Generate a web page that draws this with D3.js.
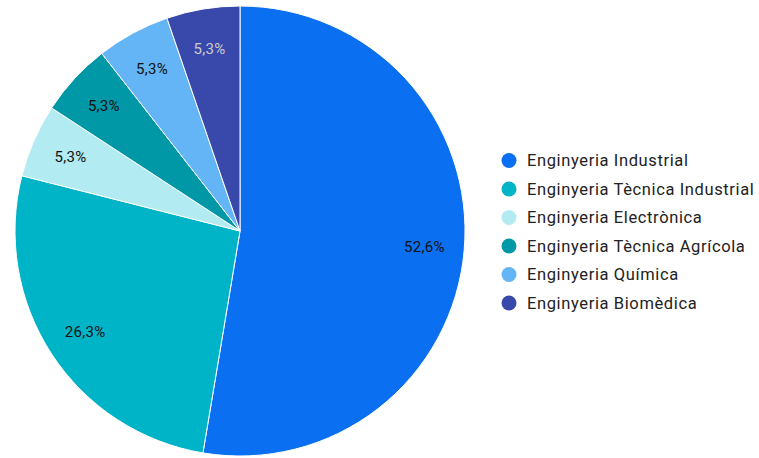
<!DOCTYPE html>
<html><head><meta charset="utf-8">
<script src="https://cdn.jsdelivr.net/npm/d3@7"></script>
<style>body{margin:0;background:#fff;}svg{display:block;}</style>
</head><body>
<svg id="c" width="759" height="458"></svg>
<script>
const categories = ["Enginyeria Industrial","Enginyeria Tècnica Industrial","Enginyeria Electrònica","Enginyeria Tècnica Agrícola","Enginyeria Química","Enginyeria Biomèdica"];
const values = [10,5,1,1,1,1];
const labels = ["52,6%","26,3%","5,3%","5,3%","5,3%","5,3%"];
const colors = ["#0a6ff0","#00b4c8","#b2ebf2","#0097a7","#64b5f6","#3949ab"];
const labelColors = ["#111","#111","#111","#111","#111","#ccc"];

const svg = d3.select("#c");
const cx = 240, cy = 231, r = 225;
const data = categories.map((c,i)=>({c, v:values[i], l:labels[i], col:colors[i], lc:labelColors[i]}));
const pie = d3.pie().value(d=>d.v).sort(null);
const arcs = pie(data);
const arc = d3.arc().innerRadius(0).outerRadius(r);
const larc = d3.arc().innerRadius(185).outerRadius(185);
const g = svg.append("g").attr("transform",`translate(${cx},${cy})`);
g.selectAll("path").data(arcs).join("path")
  .attr("d",arc).attr("fill",d=>d.data.col).attr("stroke","#fff").attr("stroke-width",1);
g.selectAll("text").data(arcs).join("text")
  .attr("transform",d=>`translate(${larc.centroid(d)})`)
  .attr("text-anchor","middle").attr("dy","0.35em")
  .attr("font-family","Roboto, sans-serif").attr("font-size",15)
  .attr("letter-spacing",0.3)
  .attr("fill",d=>d.data.lc).text(d=>d.data.l);

const lg = svg.append("g").attr("transform","translate(509,160.5)");
const rows = lg.selectAll("g").data(data).join("g")
  .attr("transform",(d,i)=>`translate(0,${i*28.5})`);
rows.append("circle").attr("r",7.5).attr("fill",d=>d.col);
rows.append("text").attr("x",18).attr("dy","0.36em")
  .attr("font-family","Roboto, sans-serif").attr("font-size",16.5)
  .attr("letter-spacing",0.62)
  .attr("fill","#222").text(d=>d.c);
</script>
</body></html>
